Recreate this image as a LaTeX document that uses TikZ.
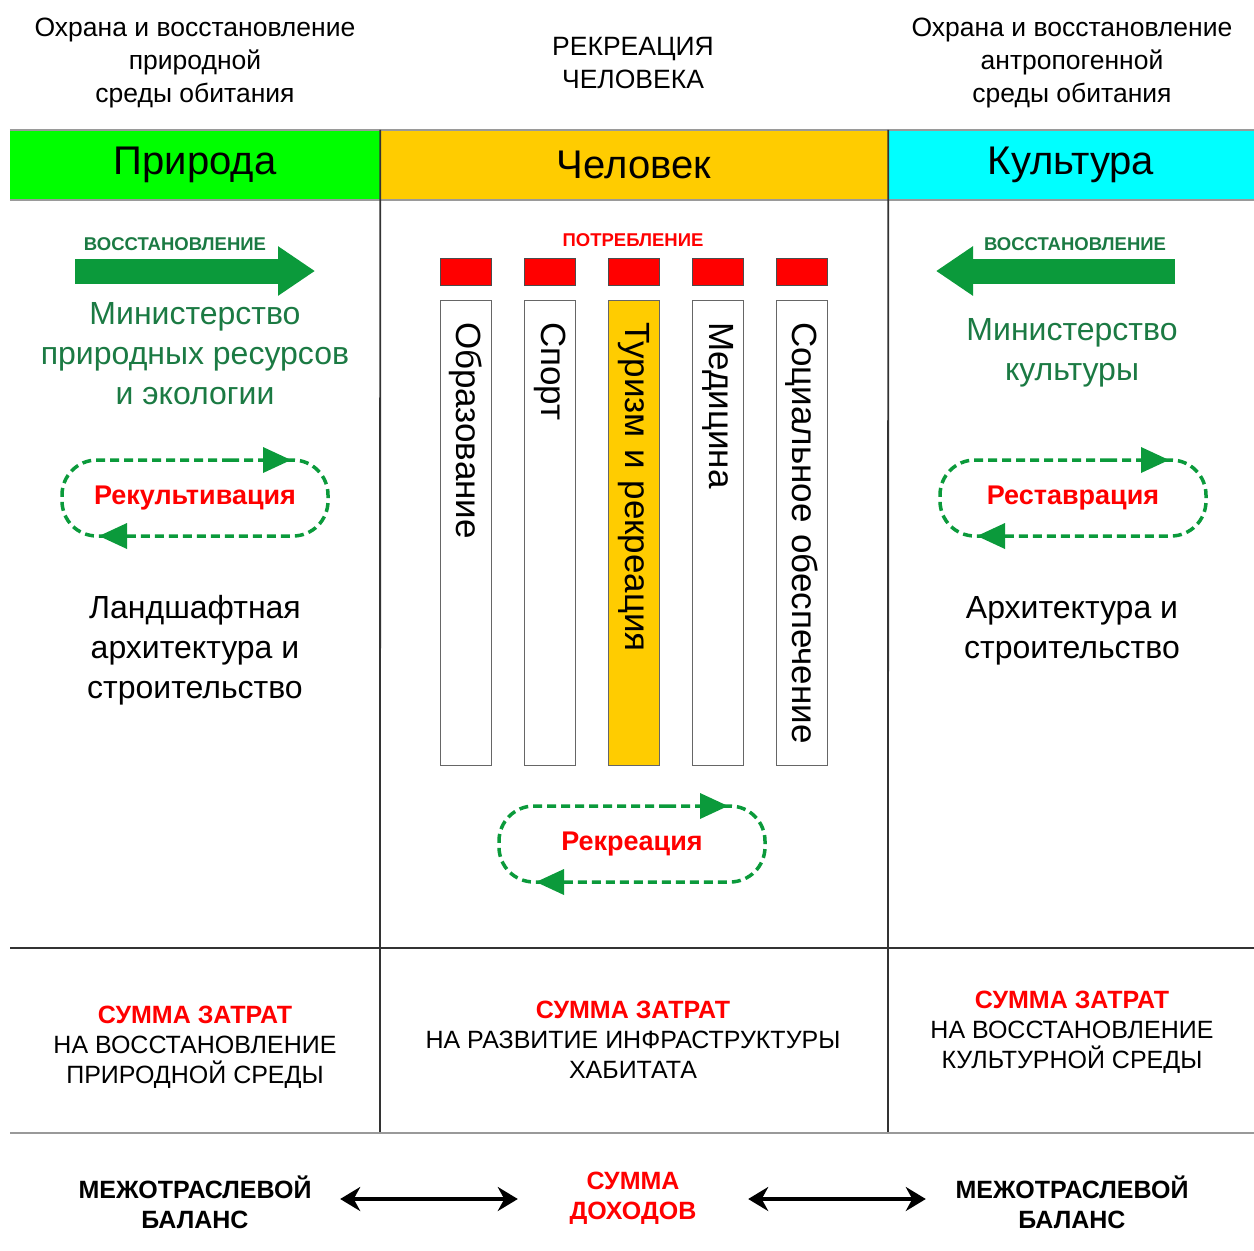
\documentclass[tikz,border=0pt]{standalone}
\usepackage{fontspec}
\setmainfont{Liberation Sans}
\usetikzlibrary{arrows.meta,calc,positioning}
\usepackage{xcolor}
\definecolor{natgreen}{HTML}{00FF00}
\definecolor{humyellow}{HTML}{FFCC00}
\definecolor{culcyan}{HTML}{00FFFF}
\definecolor{arrgreen}{HTML}{0B9A3B}
\definecolor{txtgreen}{HTML}{1B7A43}
\definecolor{redtxt}{HTML}{FF0000}
\definecolor{rulegray}{HTML}{9A9A9A}
\newcommand{\fsz}[2]{\fontsize{#1}{#2}\selectfont}

\begin{document}
\begin{tikzpicture}[x=1pt,y=-1pt,>=Stealth,
    every node/.style={align=center,inner sep=0pt},
    toptxt/.style={font=\fsz{26.5}{33}},
    hdrcell/.style={minimum height=70pt,font=\fsz{40}{48}},
    restlbl/.style={font=\bfseries\fsz{18.5}{20},text=txtgreen},
    minis/.style={font=\fsz{32}{40},text=txtgreen},
    plaintxt/.style={font=\fsz{32}{40}},
    cyclbl/.style={font=\bfseries\fsz{27}{30},text=redtxt},
    cyc/.style={draw=arrgreen,line width=3.5pt,dash pattern=on 9pt off 5pt,rounded corners=35pt},
    cyctip/.style={fill=arrgreen},
    bigarr/.style={arrgreen,line width=25pt,-{Triangle[length=37pt,width=47pt]}},
    capbox/.style={draw=black!70,line width=0.8pt,fill=redtxt,minimum width=51pt,minimum height=27pt},
    barbox/.style={draw=black!60,line width=1pt,minimum width=465pt,minimum height=51pt,
      text width=421pt,align=left,inner xsep=22pt,font=\fsz{35}{40}},
    sumtxt/.style={font=\fsz{25}{30}},
    baltxt/.style={font=\bfseries\fsz{25}{30}},
    dbl/.style={{Stealth[length=20pt,width=24pt]}-{Stealth[length=20pt,width=24pt]},line width=3.5pt}
  ]
  \useasboundingbox (0,0) rectangle (1254,1251);

  % top captions
  \node[toptxt] (topnat) at (195,63) {Охрана и восстановление\\природной\\среды обитания};
  \node[toptxt] (tophum) at (633,63) {РЕКРЕАЦИЯ\\ЧЕЛОВЕКА};
  \node[toptxt] (topcul) at (1072,63) {Охрана и восстановление\\антропогенной\\среды обитания};

  % header row
  \node[hdrcell,fill=natgreen,minimum width=370pt] (hnat) at (195,165) {Природа};
  \node[hdrcell,fill=humyellow,minimum width=508pt] (hhum) at (634,165) {Человек};
  \node[hdrcell,fill=culcyan,minimum width=366pt] (hcul) at (1071,165) {Культура};
  \draw[rulegray,line width=2.5pt] (hnat.north west) -- (hcul.north east);
  \draw[rulegray,line width=2.5pt] (hnat.south west) -- (hcul.south east);

  % grid
  \draw[black!80,line width=1.8pt] (hnat.north east) -- (380,1133);
  \draw[black!80,line width=1.8pt] (hhum.north east) -- (888,1133);
  \draw[black!80,line width=1.6pt] (10,948) -- (1254,948);
  \draw[black!40,line width=2.5pt] (10,1133) -- (1254,1133);

  % nature column
  \node[restlbl] (restL) at (175,244) {ВОССТАНОВЛЕНИЕ};
  \coordinate (arL0) at (75,271);
  \coordinate (arL1) at (315,271);
  \draw[bigarr] (arL0) -- (arL1);
  \node[minis] (minL) at (195,354) {Министерство\\природных ресурсов\\и экологии};
  \node[cyclbl] (recult) at (195,498) {Рекультивация};
  \draw[cyc] ($(recult)+(0,-38)$) -- ($(recult)+(133,-38)$) -- ($(recult)+(133,38)$)
    -- ($(recult)+(-133,38)$) -- ($(recult)+(-133,-38)$) -- cycle;
  \fill[cyctip] ($(recult)+(96,-38)$) -- ++(-28,-13) -- ++(0,26) -- cycle;
  \fill[cyctip] ($(recult)+(-96,38)$) -- ++(28,-13) -- ++(0,26) -- cycle;
  \node[plaintxt] (landL) at (195,650) {Ландшафтная\\архитектура и\\строительство};

  % culture column
  \node[restlbl] (restR) at (1075,244) {ВОССТАНОВЛЕНИЕ};
  \coordinate (arR0) at (1175,271);
  \coordinate (arR1) at (936,271);
  \draw[bigarr] (arR0) -- (arR1);
  \node[minis] (minR) at (1072,353) {Министерство\\культуры};
  \node[cyclbl] (restor) at (1073,498) {Реставрация};
  \draw[cyc] ($(restor)+(0,-38)$) -- ($(restor)+(133,-38)$) -- ($(restor)+(133,38)$)
    -- ($(restor)+(-133,38)$) -- ($(restor)+(-133,-38)$) -- cycle;
  \fill[cyctip] ($(restor)+(96,-38)$) -- ++(-28,-13) -- ++(0,26) -- cycle;
  \fill[cyctip] ($(restor)+(-96,38)$) -- ++(28,-13) -- ++(0,26) -- cycle;
  \node[plaintxt] (archR) at (1072,631) {Архитектура и\\строительство};

  % human column
  \node[font=\bfseries\fsz{18.5}{20},text=redtxt] (cons) at (633,240) {ПОТРЕБЛЕНИЕ};
  \foreach \lbl/\clr [count=\i from 0] in {Образование/white,Спорт/white,
      Туризм и рекреация/humyellow,Медицина/white,Социальное обеспечение/white}{
    \node[capbox] (cap\i) at (466+84*\i,271.5) {};
    \node[barbox,fill=\clr,rotate=-90] (bar\i) at (466+84*\i,532.5) {\mbox{\lbl}};
  }
  \node[cyclbl] (recr) at (632,844) {Рекреация};
  \draw[cyc] ($(recr)+(0,-38)$) -- ($(recr)+(133,-38)$) -- ($(recr)+(133,38)$)
    -- ($(recr)+(-133,38)$) -- ($(recr)+(-133,-38)$) -- cycle;
  \fill[cyctip] ($(recr)+(96,-38)$) -- ++(-28,-13) -- ++(0,26) -- cycle;
  \fill[cyctip] ($(recr)+(-96,38)$) -- ++(28,-13) -- ++(0,26) -- cycle;

  % costs row
  \node[sumtxt] (costL) at (195,1047) {{\color{redtxt}\bfseries СУММА ЗАТРАТ}\\НА ВОССТАНОВЛЕНИЕ\\ПРИРОДНОЙ СРЕДЫ};
  \node[sumtxt] (costM) at (633,1040) {{\color{redtxt}\bfseries СУММА ЗАТРАТ}\\НА РАЗВИТИЕ ИНФРАСТРУКТУРЫ\\ХАБИТАТА};
  \node[sumtxt] (costR) at (1072,1032) {{\color{redtxt}\bfseries СУММА ЗАТРАТ}\\НА ВОССТАНОВЛЕНИЕ\\КУЛЬТУРНОЙ СРЕДЫ};

  % balance row
  \node[baltxt,minimum width=290pt] (balL) at (195,1202) {МЕЖОТРАСЛЕВОЙ\\БАЛАНС};
  \node[baltxt,text=redtxt,minimum width=230pt] (inc) at (633,1198) {СУММА\\ДОХОДОВ};
  \node[baltxt,minimum width=292pt] (balR) at (1072,1202) {МЕЖОТРАСЛЕВОЙ\\БАЛАНС};
  \draw[dbl] (balL.east |- 0,1199) -- (inc.west |- 0,1199);
  \draw[dbl] (inc.east |- 0,1199) -- (balR.west |- 0,1199);
\end{tikzpicture}
\end{document}
